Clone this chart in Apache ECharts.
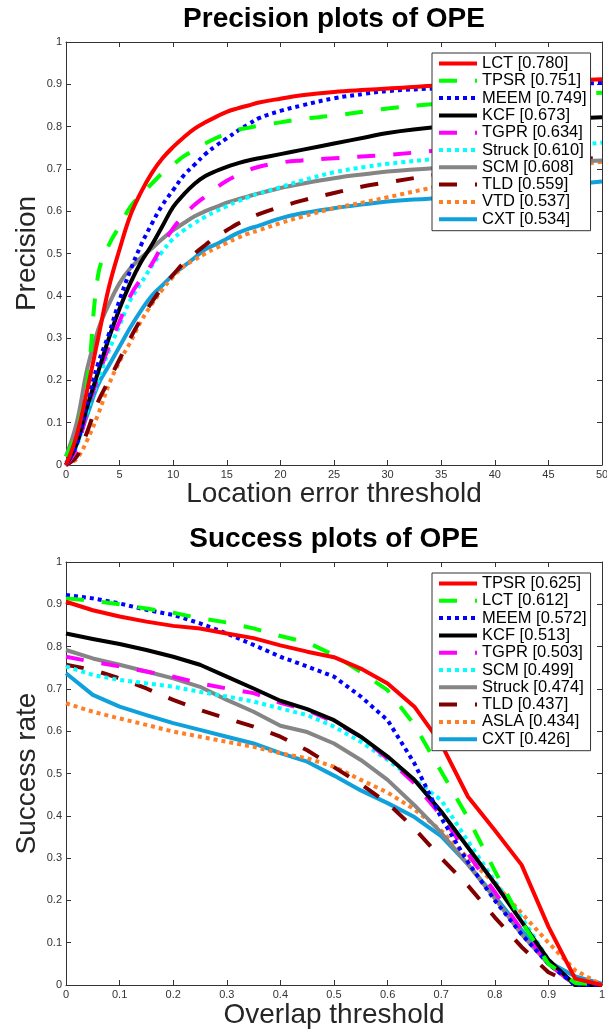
<!DOCTYPE html>
<html><head><meta charset="utf-8">
<script src="https://cdn.jsdelivr.net/npm/echarts@6/dist/echarts.min.js"></script>
<style>html,body{margin:0;padding:0;background:#fff}#c{width:607px;height:1034px}</style>
</head><body><div id="c"></div>
<script>
// ---------- Data: Precision plots of OPE ----------
const precThresholds = [0,1,2,3,4,5,6,7,8,9,10,11,12,13,14,15,16,17,18,20,22,25,28,30,35,40,45,50];
const precNames  = ['LCT','TPSR','MEEM','KCF','TGPR','Struck','SCM','TLD','VTD','CXT'];
const precScores = ['0.780','0.751','0.749','0.673','0.634','0.610','0.608','0.559','0.537','0.534'];
const precLCT    = [0,0.07,0.18,0.30,0.42,0.51,0.59,0.645,0.69,0.725,0.752,0.775,0.795,0.81,0.823,0.835,0.843,0.85,0.857,0.866,0.874,0.882,0.887,0.89,0.898,0.903,0.907,0.912];
const precTPSR   = [0.02,0.08,0.20,0.45,0.52,0.565,0.61,0.64,0.665,0.69,0.71,0.73,0.745,0.76,0.773,0.783,0.792,0.797,0.802,0.81,0.818,0.826,0.836,0.843,0.855,0.865,0.873,0.88];
const precMEEM   = [0,0.05,0.15,0.24,0.31,0.39,0.46,0.52,0.57,0.615,0.65,0.685,0.71,0.735,0.755,0.772,0.79,0.805,0.82,0.837,0.85,0.867,0.878,0.884,0.891,0.896,0.90,0.903];
const precKCF    = [0,0.05,0.14,0.22,0.30,0.37,0.43,0.48,0.52,0.565,0.61,0.64,0.665,0.683,0.695,0.705,0.713,0.72,0.725,0.735,0.745,0.76,0.775,0.785,0.80,0.81,0.817,0.822];
const precTGPR   = [0,0.04,0.13,0.21,0.28,0.34,0.40,0.44,0.475,0.52,0.56,0.59,0.615,0.635,0.655,0.672,0.685,0.697,0.705,0.715,0.72,0.725,0.73,0.733,0.745,0.76,0.772,0.78];
const precStruck = [0,0.045,0.13,0.20,0.27,0.33,0.39,0.43,0.47,0.505,0.535,0.555,0.572,0.587,0.60,0.612,0.623,0.633,0.642,0.657,0.672,0.692,0.705,0.712,0.725,0.738,0.75,0.762];
const precSCM    = [0.02,0.10,0.23,0.32,0.38,0.43,0.465,0.49,0.512,0.535,0.555,0.572,0.588,0.60,0.61,0.62,0.628,0.635,0.642,0.655,0.665,0.678,0.688,0.694,0.703,0.71,0.715,0.72];
const precTLD    = [0,0.02,0.08,0.15,0.20,0.25,0.30,0.345,0.385,0.42,0.45,0.478,0.50,0.52,0.54,0.555,0.57,0.582,0.593,0.61,0.625,0.643,0.66,0.668,0.688,0.703,0.716,0.727];
const precVTD    = [0,0.015,0.06,0.12,0.19,0.245,0.29,0.34,0.38,0.415,0.445,0.47,0.485,0.50,0.513,0.525,0.537,0.547,0.555,0.572,0.587,0.607,0.622,0.633,0.66,0.683,0.70,0.717];
const precCXT    = [0.005,0.05,0.12,0.19,0.235,0.28,0.325,0.365,0.40,0.425,0.45,0.47,0.49,0.51,0.522,0.535,0.548,0.558,0.566,0.583,0.595,0.607,0.617,0.623,0.632,0.645,0.658,0.67];
const precValues = [precLCT,precTPSR,precMEEM,precKCF,precTGPR,precStruck,precSCM,precTLD,precVTD,precCXT];
const precXTicks = {min:0, max:50, interval:5};

// ---------- Data: Success plots of OPE ----------
const overlapThresholds = [0,0.05,0.1,0.15,0.2,0.25,0.3,0.35,0.4,0.45,0.5,0.55,0.6,0.65,0.7,0.75,0.8,0.85,0.9,0.95,1];
const succNames  = ['TPSR','LCT','MEEM','KCF','TGPR','SCM','Struck','TLD','ASLA','CXT'];
const succScores = ['0.625','0.612','0.572','0.513','0.503','0.499','0.474','0.437','0.434','0.426'];
const succTPSR   = [0.906,0.886,0.871,0.859,0.849,0.843,0.831,0.82,0.803,0.788,0.775,0.748,0.713,0.658,0.57,0.445,0.366,0.284,0.138,0.015,0];
const succLCT    = [0.914,0.908,0.90,0.89,0.88,0.867,0.857,0.843,0.825,0.81,0.78,0.74,0.697,0.615,0.505,0.395,0.27,0.15,0.05,0.005,0];
const succMEEM   = [0.922,0.914,0.902,0.887,0.875,0.855,0.831,0.804,0.776,0.753,0.729,0.682,0.626,0.524,0.395,0.29,0.20,0.12,0.05,0,0];
const succKCF    = [0.831,0.818,0.806,0.792,0.776,0.757,0.729,0.701,0.672,0.652,0.626,0.587,0.54,0.485,0.41,0.325,0.24,0.15,0.06,0,0];
const succTGPR   = [0.776,0.764,0.753,0.741,0.729,0.713,0.701,0.69,0.667,0.65,0.622,0.587,0.535,0.477,0.40,0.31,0.22,0.13,0.05,0,0];
const succSCM    = [0.753,0.733,0.721,0.713,0.705,0.693,0.682,0.67,0.654,0.638,0.611,0.575,0.532,0.485,0.437,0.34,0.245,0.16,0.06,0,0];
const succStruck = [0.792,0.772,0.757,0.741,0.725,0.705,0.674,0.646,0.613,0.598,0.571,0.532,0.485,0.425,0.36,0.285,0.205,0.12,0.05,0,0];
const succTLD    = [0.757,0.745,0.725,0.701,0.674,0.65,0.63,0.611,0.587,0.555,0.515,0.475,0.43,0.37,0.30,0.235,0.16,0.09,0.03,0,0];
const succASLA   = [0.666,0.646,0.63,0.615,0.599,0.587,0.575,0.563,0.548,0.536,0.516,0.485,0.455,0.415,0.365,0.30,0.24,0.17,0.10,0.035,0];
const succCXT    = [0.737,0.686,0.658,0.638,0.619,0.603,0.587,0.571,0.548,0.528,0.495,0.46,0.43,0.397,0.352,0.285,0.21,0.13,0.055,0.02,0.003];
const succValues = [succTPSR,succLCT,succMEEM,succKCF,succTGPR,succSCM,succStruck,succTLD,succASLA,succCXT];
const succXTicks = {min:0, max:1, interval:0.1};

// ---------- Styles (by rank) ----------
const FONT = 'Liberation Sans, Arial, Helvetica, sans-serif';
const rankStyles = [
  {color:'#ff0000', type:'solid'},
  {color:'#00ff00', type:[18,18]},
  {color:'#0000ff', type:[4,4]},
  {color:'#000000', type:'solid'},
  {color:'#ff00ff', type:[18,18]},
  {color:'#00ffff', type:[4,4]},
  {color:'#858585', type:'solid'},
  {color:'#800000', type:[18,18]},
  {color:'#ff7f27', type:[4,4]},
  {color:'#10a0dc', type:'solid'}
];

function makeSeries(names, scores, xs, values, axisIdx, smooth) {
  return names.map((n, i) => ({
    type: 'line',
    name: n + ' [' + scores[i] + ']',
    xAxisIndex: axisIdx, yAxisIndex: axisIdx,
    data: xs.map((x, j) => [x, values[i][j]]),
    symbol: 'none', smooth: smooth,
    z: 20 - i,
    lineStyle: {color: rankStyles[i].color, width: 4, type: rankStyles[i].type, cap: 'butt', join: 'round'},
    itemStyle: {color: rankStyles[i].color},
    emphasis: {disabled: true},
    animation: false
  }));
}

const axisCol = '#333';
function xAxisMain(grid, ticks, name, gap) {
  return {gridIndex: grid, type: 'value', position: 'bottom', min: ticks.min, max: ticks.max, interval: ticks.interval,
    name: name, nameLocation: 'middle', nameGap: gap, nameMoveOverlap: false,
    nameTextStyle: {fontSize: 28, color: '#262626', fontFamily: FONT},
    axisLine: {show: true, onZero: false, lineStyle: {color: axisCol, width: 1}},
    axisTick: {show: true, inside: true, length: 5, lineStyle: {color: axisCol}},
    axisLabel: {fontSize: 11, color: '#333', margin: 4, fontFamily: FONT, showMinLabel: true, showMaxLabel: true},
    splitLine: {show: false}};
}
function xAxisMirror(grid, ticks) {
  return {gridIndex: grid, type: 'value', position: 'top', min: ticks.min, max: ticks.max, interval: ticks.interval,
    axisLine: {show: true, onZero: false, lineStyle: {color: axisCol, width: 1}},
    axisTick: {show: true, inside: true, length: 5, lineStyle: {color: axisCol}},
    axisLabel: {show: false}, splitLine: {show: false}};
}
function yAxisMain(grid, name, gap) {
  return {gridIndex: grid, type: 'value', position: 'left', min: 0, max: 1, interval: 0.1,
    name: name, nameLocation: 'middle', nameGap: gap, nameMoveOverlap: false,
    nameTextStyle: {fontSize: 28, color: '#262626', fontFamily: FONT},
    axisLine: {show: true, onZero: false, lineStyle: {color: axisCol, width: 1}},
    axisTick: {show: true, inside: true, length: 5, lineStyle: {color: axisCol}},
    axisLabel: {fontSize: 11, color: '#333', margin: 4, fontFamily: FONT, showMinLabel: true, showMaxLabel: true},
    splitLine: {show: false}};
}
function yAxisMirror(grid) {
  return {gridIndex: grid, type: 'value', position: 'right', min: 0, max: 1, interval: 0.1,
    axisLine: {show: true, onZero: false, lineStyle: {color: axisCol, width: 1}},
    axisTick: {show: true, inside: true, length: 5, lineStyle: {color: axisCol}},
    axisLabel: {show: false}, splitLine: {show: false}};
}
function legendAt(top, names, scores) {
  return {orient: 'vertical', left: 432, top: top,
    data: names.map((n, i) => n + ' [' + scores[i] + ']'),
    padding: [2, 4, 3, 5], itemWidth: 38, itemHeight: 16, itemGap: 0.3,
    backgroundColor: '#fff', borderColor: '#333', borderWidth: 1, borderRadius: 0,
    textStyle: {fontFamily: FONT, fontSize: 16.5, color: '#000', lineHeight: 16},
    itemStyle: {opacity: 0, borderWidth: 0},
    lineStyle: {width: 4}, selectedMode: false, z: 30};
}

const chart = echarts.init(document.getElementById('c'), null, {renderer: 'canvas'});
chart.setOption({
  animation: false,
  backgroundColor: '#fff',
  grid: [
    {left: 66, top: 42, width: 536, height: 423, containLabel: false, outerBoundsMode: 'none'},
    {left: 66, top: 562, width: 536, height: 423, containLabel: false, outerBoundsMode: 'none'}
  ],
  graphic: [
    {type: 'text', x: 334, y: 19, style: {text: 'Precision plots of OPE', align: 'center', verticalAlign: 'middle', fontSize: 28, fontWeight: 'bold', fontFamily: FONT, fill: '#000'}},
    {type: 'text', x: 334, y: 539, style: {text: 'Success plots of OPE', align: 'center', verticalAlign: 'middle', fontSize: 28, fontWeight: 'bold', fontFamily: FONT, fill: '#000'}}
  ],
  xAxis: [
    xAxisMain(0, precXTicks, 'Location error threshold', 15),
    xAxisMirror(0, precXTicks),
    xAxisMain(1, succXTicks, 'Overlap threshold', 16),
    xAxisMirror(1, succXTicks)
  ],
  yAxis: [
    yAxisMain(0, 'Precision', 25),
    yAxisMirror(0),
    yAxisMain(1, 'Success rate', 25),
    yAxisMirror(1)
  ],
  legend: [legendAt(53, precNames, precScores), legendAt(573, succNames, succScores)],
  series: [].concat(
    makeSeries(precNames, precScores, precThresholds, precValues, 0, 0.4),
    makeSeries(succNames, succScores, overlapThresholds, succValues, 2, false)
  )
});
</script>
</body></html>
